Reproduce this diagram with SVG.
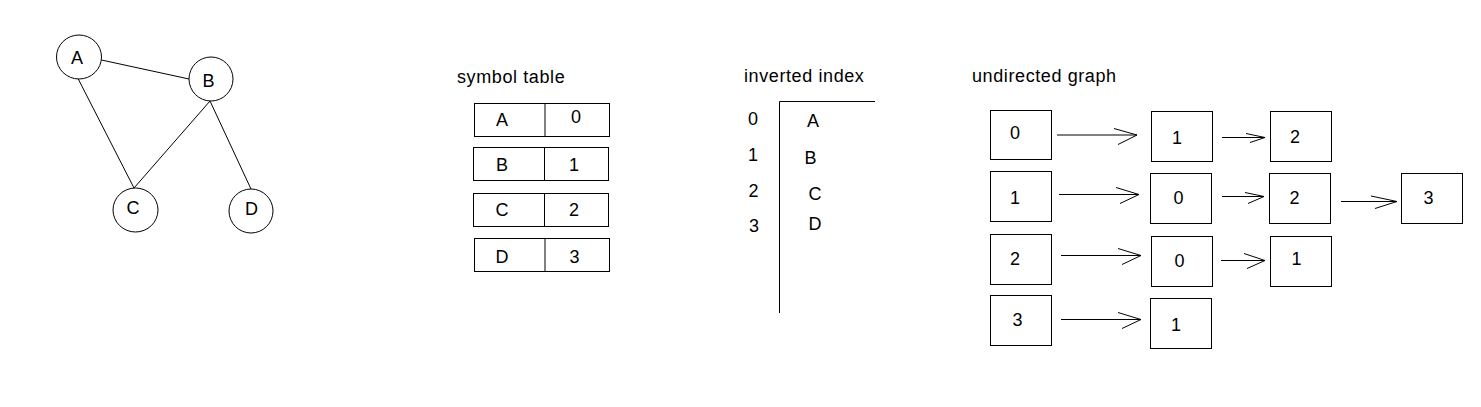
<svg xmlns="http://www.w3.org/2000/svg" width="1481" height="407" viewBox="0 0 1481 407">
<style>
  .t { font-family: "Liberation Sans", Arial, sans-serif; font-size: 18px; fill: #000; }
  .c { text-anchor: middle; }
  .h { font-family: "Liberation Sans", Arial, sans-serif; font-size: 18px; fill: #000; letter-spacing: 0.6px; }
  .s { fill: #fff; stroke: #000; stroke-width: 1; }
  .l { fill: none; stroke: #000; stroke-width: 1; }
</style>
<rect width="1481" height="407" fill="#fff"/>

<!-- graph -->
<g id="graph-edges">
  <line class="l" x1="101.5" y1="60" x2="189" y2="79"/>
  <line class="l" x1="78" y1="78.5" x2="134" y2="188"/>
  <line class="l" x1="210" y1="101" x2="134" y2="188"/>
  <line class="l" x1="210" y1="101" x2="251" y2="189"/>
</g>
<g id="node-A"><ellipse class="s" cx="79" cy="57" rx="22.5" ry="22"/><text class="t c" x="77" y="63.5">A</text></g>
<g id="node-B"><ellipse class="s" cx="211" cy="79" rx="22" ry="22"/><text class="t c" x="208.5" y="86.5">B</text></g>
<g id="node-C"><ellipse class="s" cx="135.5" cy="210" rx="22.5" ry="22"/><text class="t c" x="133" y="213.5">C</text></g>
<g id="node-D"><ellipse class="s" cx="251" cy="211" rx="22" ry="22"/><text class="t c" x="251.5" y="214.5">D</text></g>

<!-- symbol table -->
<g id="symbol-table">
  <text class="h" x="457" y="83">symbol table</text>
  <g id="st-A"><rect class="s" x="474.5" y="103.5" width="135" height="33"/><line class="l" x1="545" y1="103.5" x2="545" y2="136.5"/><text class="t c" x="502" y="126">A</text><text class="t c" x="576" y="123">0</text></g>
  <g id="st-B"><rect class="s" x="473.5" y="147.5" width="135" height="33"/><line class="l" x1="544.5" y1="147.5" x2="544.5" y2="180.5"/><text class="t c" x="502" y="171">B</text><text class="t c" x="574" y="171">1</text></g>
  <g id="st-C"><rect class="s" x="473.5" y="193.5" width="135" height="33"/><line class="l" x1="544.5" y1="193.5" x2="544.5" y2="226.5"/><text class="t c" x="502" y="216">C</text><text class="t c" x="574" y="216">2</text></g>
  <g id="st-D"><rect class="s" x="474.5" y="238.5" width="135" height="33"/><line class="l" x1="545" y1="238.5" x2="545" y2="271.5"/><text class="t c" x="502" y="262.5">D</text><text class="t c" x="574.5" y="262.5">3</text></g>
</g>

<!-- inverted index -->
<g id="inverted-index">
  <text class="h" x="744" y="82">inverted index</text>
  <path class="l" d="M779.5 313 V101.5 H875"/>
  <text class="t c" x="753" y="124.5">0</text>
  <text class="t c" x="753" y="161">1</text>
  <text class="t c" x="753.5" y="197">2</text>
  <text class="t c" x="754" y="232">3</text>
  <text class="t c" x="813" y="127">A</text>
  <text class="t c" x="810.5" y="163.5">B</text>
  <text class="t c" x="815" y="199.5">C</text>
  <text class="t c" x="815" y="230">D</text>
</g>

<!-- undirected graph adjacency lists -->
<text class="h" x="972" y="82">undirected graph</text>

<g id="connectors">
  <path class="l" d="M1057 135 H1137 M1114 128.5 L1137 135 L1118 144.5"/>
  <path class="l" d="M1222 137.5 H1265 M1246 133.5 L1265 137.5 L1250 142.5"/>
  <path class="l" d="M1059 194.5 H1139 M1116 187.5 L1139 194.5 L1120 203.5"/>
  <path class="l" d="M1222 196.5 H1264 M1245 192.5 L1264 196.5 L1248 203.5"/>
  <path class="l" d="M1341 201.5 H1397 M1371 196 L1397 201.5 L1375 208.5"/>
  <path class="l" d="M1061 255.5 H1141 M1118 248.5 L1141 255.5 L1122 264.5"/>
  <path class="l" d="M1221 260.5 H1265 M1244 253.5 L1265 260.5 L1247 268.5"/>
  <path class="l" d="M1061 319.5 H1141 M1118 312.5 L1141 319.5 L1122 328.5"/>
</g>

<g id="adj-0"><rect class="s" x="990.5" y="110.5" width="61" height="49"/><text class="t c" x="1015" y="139">0</text></g>
<g id="adj-0-1"><rect class="s" x="1151.5" y="111.5" width="61" height="50"/><text class="t c" x="1177" y="144">1</text></g>
<g id="adj-0-2"><rect class="s" x="1270.5" y="111.5" width="61" height="50"/><text class="t c" x="1295" y="142.5">2</text></g>

<g id="adj-1"><rect class="s" x="990.5" y="171.5" width="61" height="50"/><text class="t c" x="1015" y="204">1</text></g>
<g id="adj-1-0"><rect class="s" x="1150.5" y="173.5" width="61" height="50"/><text class="t c" x="1178.5" y="204">0</text></g>
<g id="adj-1-2"><rect class="s" x="1269.5" y="173.5" width="61" height="50"/><text class="t c" x="1294.5" y="204">2</text></g>
<g id="adj-1-3"><rect class="s" x="1401.5" y="173.5" width="61" height="50"/><text class="t c" x="1428.5" y="203.5">3</text></g>

<g id="adj-2"><rect class="s" x="990.5" y="234.5" width="61" height="50"/><text class="t c" x="1015" y="265">2</text></g>
<g id="adj-2-0"><rect class="s" x="1151.5" y="236.5" width="61" height="50"/><text class="t c" x="1179.5" y="266.5">0</text></g>
<g id="adj-2-1"><rect class="s" x="1270.5" y="236.5" width="61" height="50"/><text class="t c" x="1296.5" y="265">1</text></g>

<g id="adj-3"><rect class="s" x="990.5" y="295.5" width="61" height="50"/><text class="t c" x="1017.5" y="326">3</text></g>
<g id="adj-3-1"><rect class="s" x="1150.5" y="298.5" width="61" height="50"/><text class="t c" x="1176" y="331">1</text></g>
</svg>
